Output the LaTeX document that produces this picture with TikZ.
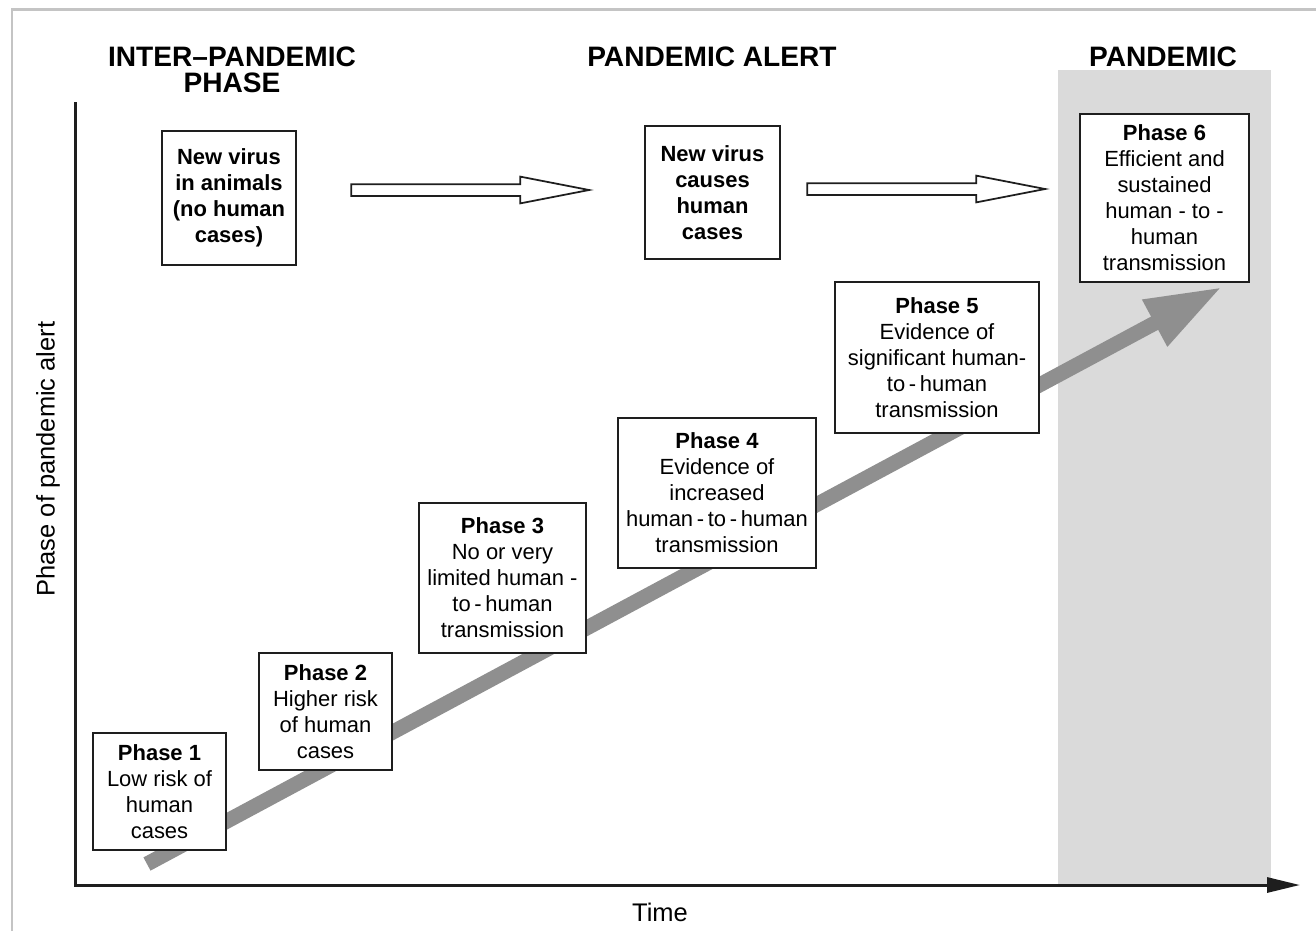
\documentclass[tikz,border=0pt]{standalone}
\usepackage{fontspec}
\setmainfont{Liberation Sans}
\usetikzlibrary{arrows.meta,shapes.arrows}
\definecolor{band}{HTML}{DADADA}
\definecolor{trend}{HTML}{8F8F8F}
\definecolor{framegray}{HTML}{C4C4C4}
\definecolor{ink}{HTML}{1E1E1E}
\begin{document}
\begin{tikzpicture}[
    x=0.02cm, y=-0.02cm,
    box/.style ={
        draw=ink,
        fill=white,
        line width=0.04cm,
        align=center,
        inner sep=0pt,
        font=\fontsize{12.5}{14.8}\selectfont
    },
    hollow/.style ={
        single arrow,
        draw=ink,
        fill=white,
        line width=0.035cm,
        inner xsep=0pt,
        inner ysep=0.1cm,
        minimum width=0pt,
        minimum height=4.76cm,
        single arrow head extend=0.15cm,
        single arrow tip angle=22
    },
    head/.style ={
        font=\fontsize{16}{14.7}\selectfont\bfseries,
        align=center
    },
    axis/.style ={
        draw=ink,
        line width=0.06cm,
        -{Triangle[length=0.66cm,width=0.3cm]}
    },
    trendline/.style ={
        draw=trend,
        line width=0.3cm,
        -{Triangle[length=1.53cm,width=0.98cm]}
    }
    ]
    \useasboundingbox (0,0) rectangle (1316,931);

    % frame and pandemic band
    \draw[framegray, line width=0.06cm] (12,931) -- (12,9.5) -- (1316,9.5);
    \fill[band] (1058,70) rectangle (1271,885);

    % rising trend
    \coordinate (start) at (147,864);
    \coordinate (tip) at (1222,287);
    \draw[trendline] (start) -- (tip);

    % axes
    \coordinate (ytop) at (75,102);
    \coordinate (O) at (75,885);
    \coordinate (xend) at (1300,885);
    \draw[axis] (ytop) -- (O) -- (xend);

    \node[rotate=90, font=\fontsize{14.5}{16}\selectfont] (ylab) at (48,459) {Phase of pandemic alert};
    \node[font=\fontsize{14.5}{16}\selectfont] (xlab) at (660,912) {Time};

    % headings
    \node[head] (H1) at (232,70) {INTER--PANDEMIC\\PHASE};
    \node[head] (H2) at (712,57) {PANDEMIC ALERT};
    \node[head] (H3) at (1163,57) {PANDEMIC};

    % virus boxes
    \node[box, font=\fontsize{12.5}{14.8}\selectfont\bfseries,
          minimum width=2.68cm, minimum height=2.68cm] (N1) at (229,198)
        {New virus\\in animals\\(no human\\cases)};
    \node[box, font=\fontsize{12.5}{14.8}\selectfont\bfseries,
          minimum width=2.7cm, minimum height=2.66cm] (N2) at (712.5,192.5)
        {New virus\\causes\\human\\cases};

    \foreach \n/ \pos/ \w/ \h/ \txt in {
        {P1/(159.5,791.5)/133/117/{\textbf{Phase 1}\\Low risk of\\human\\cases}},
        {P2/(325.5,711.5)/133/117/{\textbf{Phase 2}\\Higher risk\\of human\\cases}},
        {P3/(502.5,578)/167/150/{\textbf{Phase 3}\\No or very\\limited human -\\to\,-\,human\\transmission}},
        {P4/(717,493)/198/150/{\textbf{Phase 4}\\Evidence of\\increased\\human\,-\,to\,-\,human\\transmission}},
        {P5/(937,357.5)/204/151/{\textbf{Phase 5}\\Evidence of\\significant human-\\to\,-\,human\\transmission}},
        {P6/(1164.5,198)/169/168/{\textbf{Phase 6}\\Efficient and\\sustained\\human - to -\\human\\transmission}}}
        \node[box, minimum width=\w*0.02cm, minimum height=\h*0.02cm] (\n) at \pos {\txt};

    % hollow arrows
    \node[hollow] (A1) at (455,190) {};
    \node[hollow] (A2) at (911,189) {};

\end{tikzpicture}
\end{document}
